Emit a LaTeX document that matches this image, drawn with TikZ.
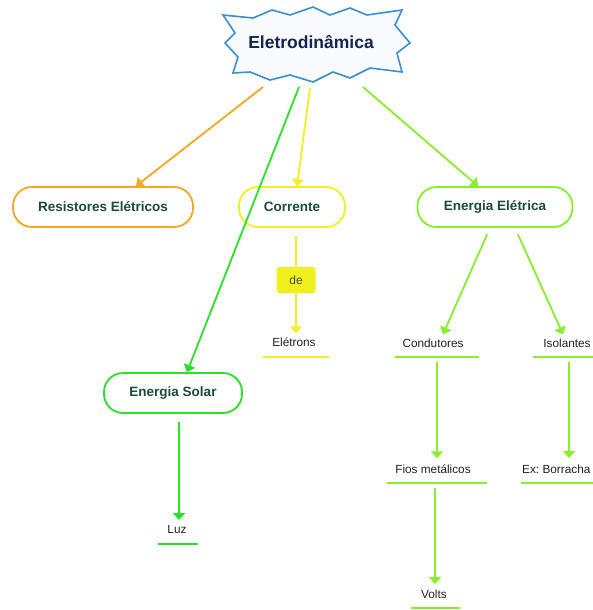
\documentclass[tikz,border=0pt]{standalone}
\usepackage{fontspec}
\setmainfont{Liberation Sans}
\usetikzlibrary{arrows.meta,calc}
\definecolor{burstblue}{HTML}{3A8FD2}
\definecolor{burstfill}{HTML}{F8FAFD}
\definecolor{titletext}{HTML}{14264F}
\definecolor{boxtext}{HTML}{1B4B3C}
\definecolor{leaftext}{HTML}{222222}
\definecolor{orng}{HTML}{F5A623}
\definecolor{yel}{HTML}{F0F01E}
\definecolor{lgrn}{HTML}{88EE2A}
\definecolor{grn}{HTML}{28E228}
\frenchspacing
\begin{document}
\begin{tikzpicture}[x=1pt,y=-1pt,
  concept/.style={draw, line width=1.8pt, fill=white, rounded corners=19pt,
    minimum height=40pt, inner sep=0pt, text=boxtext,
    font=\fontsize{13.5}{16}\selectfont\bfseries},
  leaf/.style={anchor=base, inner sep=0pt, text height=8.5pt, text depth=0pt,
    text=leaftext, font=\fontsize{11.8}{14}\selectfont},
  arr/.style={line width=1.8pt, -{Triangle[length=7pt,width=12pt]}},
  uline/.style={line width=2.8pt}]
\useasboundingbox (0,0) rectangle (592,610);
% burst
\draw[burstblue, line width=1.6pt, fill=burstfill, line join=miter]
  (223,15) -- (253,18) -- (272,10) -- (290,15) -- (313,7) -- (330,15) -- (350,8)
  -- (367,15) -- (402,10) -- (395,25) -- (410,43) -- (397,53) -- (402,72)
  -- (370,68) -- (350,78) -- (333,72) -- (313,82) -- (290,75) -- (270,80)
  -- (250,72) -- (233,73) -- (238,57) -- (225,43) -- (235,33) -- cycle;
\node[text=titletext, font=\fontsize{17.5}{20}\selectfont\bfseries] (title) at (311,42) {Eletrodinâmica};
\coordinate (t1) at (263,87);
\coordinate (t2) at (299,87);
\coordinate (t3) at (310,88);
\coordinate (t4) at (363,87);
% concept boxes
\node[concept, draw=orng, minimum width=180pt] (res) at (103,207) {Resistores Elétricos};
\node[concept, draw=yel, minimum width=106pt] (cor) at (292,207) {Corrente};
\node[concept, draw=lgrn, minimum width=155pt] (ee) at (495,207) {Energia Elétrica};
\node[concept, draw=grn, minimum width=138pt] (sol) at (173,393) {Energia Solar};
\node[fill=yel, rounded corners=3pt, minimum width=39pt, minimum height=26pt, inner sep=0pt,
  text=black!70, font=\fontsize{12}{14}\selectfont] (de) at (296,280) {de};
% leaves
\node[leaf] (elet) at (294,346) {Elétrons};
\node[leaf] (cond) at (433,347) {Condutores};
\node[leaf] (iso) at (567,347) {Isolantes};
\node[leaf] (fios) at (433,473) {Fios metálicos};
\node[leaf, anchor=base west] (borr) at (522,473) {Ex: Borracha};
\node[leaf] (luz) at (177,533) {Luz};
\node[leaf] (volts) at (434,598) {Volts};
% underlines
\draw[uline, yel] ([xshift=-31pt,yshift=-11pt]elet.base) -- ([xshift=35pt,yshift=-11pt]elet.base);
\draw[uline, lgrn] ([xshift=-38pt,yshift=-10pt]cond.base) -- ([xshift=46pt,yshift=-10pt]cond.base);
\draw[uline, lgrn] ([xshift=-34pt,yshift=-10pt]iso.base) -- ([xshift=33pt,yshift=-10pt]iso.base);
\draw[uline, lgrn] ([xshift=-46pt,yshift=-10pt]fios.base) -- ([xshift=54pt,yshift=-10pt]fios.base);
\draw[uline, lgrn] ([xshift=-1pt,yshift=-10pt]borr.base west) -- ([xshift=78pt,yshift=-10pt]borr.base west);
\draw[uline, grn] ([xshift=-19pt,yshift=-11pt]luz.base) -- ([xshift=21pt,yshift=-11pt]luz.base);
\draw[uline, lgrn] ([xshift=-23pt,yshift=-10pt]volts.base) -- ([xshift=26pt,yshift=-10pt]volts.base);
% connectors
\draw[arr, orng] (t1) -- ([xshift=33pt]res.north);
\draw[arr, grn] (t2) -- ([xshift=14pt]sol.north);
\draw[arr, yel] (t3) -- ([xshift=5pt]cor.north);
\draw[arr, lgrn] (t4) -- ([xshift=-17pt]ee.north);
\draw[line width=1.8pt, yel, shorten <=8pt] ([xshift=4pt]cor.south) -- (de.north);
\draw[arr, yel] (de.south) -- ([xshift=2pt,yshift=4pt]elet.north);
\draw[arr, lgrn, shorten <=7pt] ([xshift=-5pt]ee.south) -- ([xshift=10pt,yshift=4pt]cond.north);
\draw[arr, lgrn, shorten <=7pt] ([xshift=20pt]ee.south) -- ([xshift=-4pt,yshift=4pt]iso.north);
\draw[arr, lgrn] ([xshift=4pt,yshift=-15pt]cond.base) -- ([xshift=4pt,yshift=6pt]fios.north);
\draw[arr, lgrn] ([xshift=2pt,yshift=-15pt]iso.base) -- ([xshift=47pt,yshift=15pt]borr.base west);
\draw[arr, lgrn] ([xshift=2pt,yshift=-15pt]fios.base) -- ([xshift=1pt,yshift=14pt]volts.base);
\draw[arr, grn, shorten <=8pt] ([xshift=6pt]sol.south) -- ([xshift=2pt,yshift=13pt]luz.base);
\end{tikzpicture}
\end{document}
